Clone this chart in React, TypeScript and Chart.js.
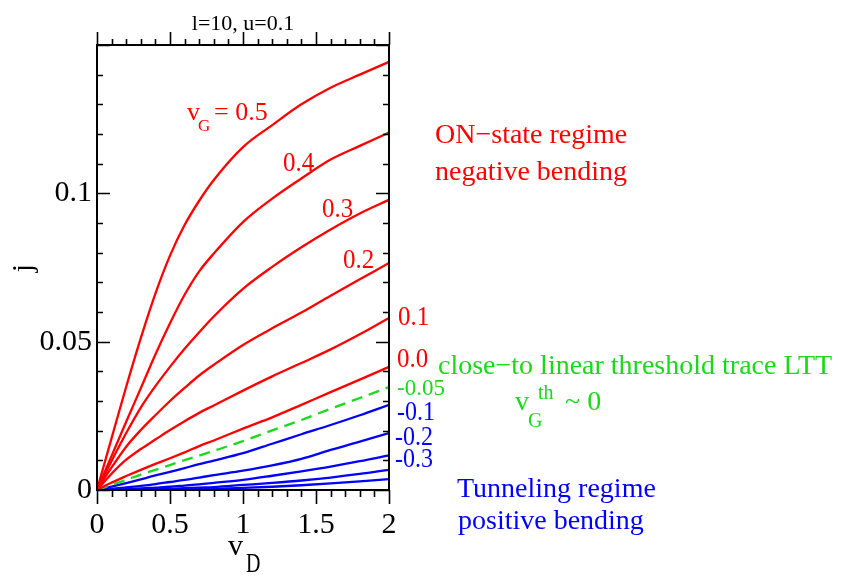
import React, { useEffect, useRef } from 'react';
import { Chart, registerables } from 'chart.js';

Chart.register(...registerables);

// ---- data ----
const vD = [0, 0.1, 0.2, 0.3, 0.4, 0.5, 0.6, 0.7, 0.8, 1.0, 1.2, 1.4, 1.6, 1.8, 2.0];

const jG05 = [0, 0.0175, 0.0348, 0.0512, 0.0662, 0.079, 0.0893, 0.0975, 0.1045, 0.1156, 0.123, 0.130, 0.1356, 0.140, 0.1443];
const jG04 = [0, 0.0115, 0.023, 0.0343, 0.0457, 0.0562, 0.0658, 0.0737, 0.0797, 0.0903, 0.0982, 0.105, 0.1114, 0.116, 0.1205];
const jG03 = [0, 0.0098, 0.0192, 0.0278, 0.035, 0.0415, 0.0476, 0.0532, 0.0585, 0.0678, 0.0752, 0.0818, 0.0878, 0.0932, 0.0978];
const jG02 = [0, 0.0076, 0.0146, 0.0202, 0.0252, 0.030, 0.0344, 0.0386, 0.0422, 0.0489, 0.0545, 0.0598, 0.0655, 0.071, 0.0765];
const jG01 = [0, 0.0055, 0.0102, 0.0138, 0.017, 0.0202, 0.0232, 0.026, 0.0285, 0.0335, 0.0383, 0.0428, 0.0474, 0.0525, 0.058];
const jG00 = [0, 0.0025, 0.0047, 0.0068, 0.0088, 0.0107, 0.0127, 0.0148, 0.0167, 0.0207, 0.0245, 0.0287, 0.033, 0.0372, 0.0415];
const jGm005 = [0, 0.0017, 0.0034, 0.0052, 0.0068, 0.0084, 0.0101, 0.0116, 0.0132, 0.0165, 0.0201, 0.0236, 0.0274, 0.031, 0.0347];
const jGm01 = [0, 0.0011, 0.0023, 0.0036, 0.0049, 0.0061, 0.0074, 0.0087, 0.0099, 0.0124, 0.0156, 0.0188, 0.0219, 0.0252, 0.0287];
const jGm02 = [0, 0.0004, 0.0009, 0.0014, 0.002, 0.0027, 0.0034, 0.0042, 0.005, 0.0065, 0.0083, 0.0105, 0.0135, 0.0163, 0.0192];
const jGm03 = [0, 0.0001, 0.0003, 0.0005, 0.0008, 0.0011, 0.0015, 0.0019, 0.0024, 0.0034, 0.0048, 0.0063, 0.0079, 0.0097, 0.0117];
const jGm04 = [0, 0.00005, 0.0001, 0.0002, 0.0003, 0.0004, 0.0006, 0.0008, 0.001, 0.0017, 0.0024, 0.0032, 0.0042, 0.0054, 0.0068];
const jGm05 = [0, 0, 0.00003, 0.00006, 0.0001, 0.00015, 0.0002, 0.0003, 0.0004, 0.0007, 0.0011, 0.0016, 0.0022, 0.0029, 0.0037];

const xTickValues = [0, 0.5, 1, 1.5, 2];
const yTickValues = [0, 0.05, 0.1];
const xMinorStep = 0.1;
const yMinorStep = 0.01;

const titleText = 'l=10, u=0.1';
const curveLabels = ['0.4', '0.3', '0.2', '0.1', '0.0', '-0.05', '-0.1', '-0.2', '-0.3'];

const RED = '#ff0000';
const BLUE = '#0000ff';
const GREEN = '#19d919';
const SERIF = '"Liberation Serif", "Times New Roman", "DejaVu Serif", serif';

function pts(arr: number[]) {
  return vD.map((x, i) => ({ x, y: arr[i] }));
}

function txt(ctx: CanvasRenderingContext2D, s: string, x: number, y: number, size: number, color: string, sy = 1) {
  ctx.save();
  ctx.font = `${size}px ${SERIF}`;
  ctx.fillStyle = color;
  ctx.textAlign = 'left';
  ctx.textBaseline = 'alphabetic';
  ctx.translate(x, y);
  ctx.scale(1, sy);
  ctx.fillText(s, 0, 0);
  ctx.restore();
}

const decorPlugin = {
  id: 'decor',
  afterDraw(chart: any) {
    const ctx: CanvasRenderingContext2D = chart.ctx;
    const { left, right, top, bottom } = chart.chartArea;
    const xs = chart.scales.x;
    const ys = chart.scales.y;
    ctx.save();
    ctx.strokeStyle = '#000';
    ctx.lineWidth = 2;
    ctx.strokeRect(left, top, right - left, bottom - top);
    ctx.lineWidth = 1.6;
    ctx.beginPath();
    for (let k = 0; k <= Math.round((xs.max - xs.min) / xMinorStep); k++) {
      const v = xs.min + k * xMinorStep;
      const px = Math.round(xs.getPixelForValue(v)) + 0.5;
      const major = xTickValues.some((t) => Math.abs(t - v) < 1e-9);
      const lb = major ? 14 : 7;
      const lt = major ? 13 : 6;
      ctx.moveTo(px, bottom);
      ctx.lineTo(px, bottom + lb);
      ctx.moveTo(px, top);
      ctx.lineTo(px, top - lt);
    }
    for (let k = 0; k <= Math.round((ys.max - ys.min) / yMinorStep); k++) {
      const v = ys.min + k * yMinorStep;
      const py = Math.round(ys.getPixelForValue(v)) + 0.5;
      const major = Math.abs(v / 0.05 - Math.round(v / 0.05)) < 1e-6;
      const l = major ? 13 : 6;
      ctx.moveTo(left, py);
      ctx.lineTo(left + l, py);
      ctx.moveTo(right, py);
      ctx.lineTo(right - l, py);
    }
    ctx.stroke();
    ctx.restore();

    // title
    ctx.save();
    ctx.font = `22px ${SERIF}`;
    ctx.fillStyle = '#000';
    ctx.textAlign = 'center';
    ctx.textBaseline = 'alphabetic';
    ctx.fillText(titleText, (left + right) / 2, 30);
    ctx.restore();

    // y axis title
    ctx.save();
    ctx.font = `30px ${SERIF}`;
    ctx.fillStyle = '#000';
    ctx.textAlign = 'center';
    ctx.textBaseline = 'alphabetic';
    ctx.translate(32, 268);
    ctx.rotate(-Math.PI / 2);
    ctx.fillText('j', 0, 0);
    ctx.restore();

    // x axis title v_D
    txt(ctx, 'v', 228, 555, 30, '#000');
    txt(ctx, 'D', 246, 572, 20, '#000', 1.35);

    // curve labels
    txt(ctx, 'v', 187, 120, 26, RED);
    txt(ctx, 'G', 198, 131, 17, RED);
    txt(ctx, '= 0.5', 214, 120, 26, RED);
    txt(ctx, curveLabels[0], 283, 171, 25, RED, 1.1);
    txt(ctx, curveLabels[1], 322, 217, 25, RED, 1.1);
    txt(ctx, curveLabels[2], 343, 268, 25, RED, 1.1);
    txt(ctx, curveLabels[3], 398, 325, 25, RED, 1.1);
    txt(ctx, curveLabels[4], 397, 367, 25, RED, 1.1);
    txt(ctx, curveLabels[5], 397, 395, 23, GREEN);
    txt(ctx, curveLabels[6], 397, 420, 24, BLUE, 1.1);
    txt(ctx, curveLabels[7], 395, 445, 24, BLUE, 1.1);
    txt(ctx, curveLabels[8], 395, 467, 24, BLUE, 1.1);

    // annotations
    txt(ctx, 'ON\u2212state regime', 435, 143, 28, RED);
    txt(ctx, 'negative bending', 435, 180, 28, RED);
    txt(ctx, 'close\u2212to linear threshold trace LTT', 438, 374, 28, GREEN);
    txt(ctx, 'v', 515, 410, 28, GREEN);
    txt(ctx, 'th', 538, 399, 20, GREEN);
    txt(ctx, 'G', 528, 427, 20, GREEN);
    txt(ctx, '~ 0', 565, 410, 28, GREEN);
    txt(ctx, 'Tunneling regime', 457, 497, 28, BLUE);
    txt(ctx, 'positive bending', 458, 529, 28, BLUE);
  },
};

export default function App() {
  const ref = useRef<HTMLCanvasElement | null>(null);

  useEffect(() => {
    if (!ref.current) return;
    const mk = (arr: number[], color: string, dash?: number[]) => ({
      data: pts(arr),
      borderColor: color,
      backgroundColor: color,
      borderWidth: 2.3,
      borderDash: dash || [],
      pointRadius: 0,
      fill: false,
      cubicInterpolationMode: 'monotone' as const,
    });
    const chart = new Chart(ref.current, {
      type: 'line',
      data: {
        datasets: [
          mk(jG05, RED),
          mk(jG04, RED),
          mk(jG03, RED),
          mk(jG02, RED),
          mk(jG01, RED),
          mk(jG00, RED),
          mk(jGm005, GREEN, [11, 7]),
          mk(jGm01, BLUE),
          mk(jGm02, BLUE),
          mk(jGm03, BLUE),
          mk(jGm04, BLUE),
          mk(jGm05, BLUE),
        ],
      },
      options: {
        responsive: false,
        animation: false,
        devicePixelRatio: 1,
        layout: { padding: { top: 45, right: 453, left: 0, bottom: 0 } },
        plugins: { legend: { display: false }, tooltip: { enabled: false }, title: { display: false } },
        scales: {
          x: {
            type: 'linear',
            position: 'bottom',
            min: 0,
            max: 2,
            afterBuildTicks: (s: any) => {
              s.ticks = xTickValues.map((v) => ({ value: v }));
            },
            afterFit: (s: any) => {
              s.height = 86;
            },
            ticks: {
              color: '#000',
              font: { family: SERIF, size: 30 },
              padding: 17,
              maxRotation: 0,
              autoSkip: false,
              callback: (v: any) => String(+Number(v).toFixed(2)),
            },
            grid: { display: false, drawTicks: false },
            border: { display: false },
          },
          y: {
            type: 'linear',
            position: 'left',
            min: 0,
            max: 0.15,
            afterBuildTicks: (s: any) => {
              s.ticks = yTickValues.map((v) => ({ value: v }));
            },
            afterFit: (s: any) => {
              s.width = 97;
            },
            ticks: {
              color: '#000',
              font: { family: SERIF, size: 30 },
              padding: 5,
              autoSkip: false,
              callback: (v: any) => String(+Number(v).toFixed(3)),
            },
            grid: { display: false, drawTicks: false },
            border: { display: false },
          },
        },
      } as any,
      plugins: [decorPlugin],
    });
    return () => chart.destroy();
  }, []);

  return (
    <canvas
      ref={ref}
      width={842}
      height={576}
      style={{ position: 'fixed', left: 0, top: 0, width: 842, height: 576, display: 'block', background: '#fff' }}
    />
  );
}
